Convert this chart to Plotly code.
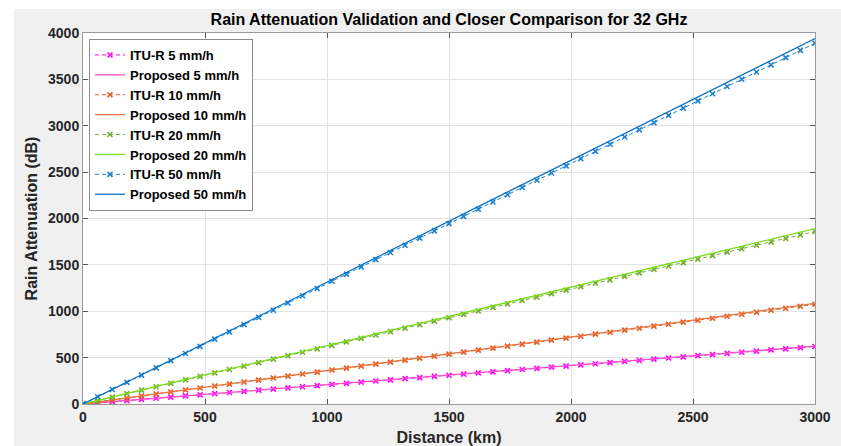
import plotly.graph_objects as go

# Distance samples (km) for the ITU-R reference curves
distance_km = [0, 60, 120, 180, 240, 300, 360, 420, 480, 540, 600, 660, 720, 780, 840,
               900, 960, 1020, 1080, 1140, 1200, 1260, 1320, 1380, 1440, 1500, 1560,
               1620, 1680, 1740, 1800, 1860, 1920, 1980, 2040, 2100, 2160, 2220, 2280,
               2340, 2400, 2460, 2520, 2580, 2640, 2700, 2760, 2820, 2880, 2940, 3000]

# ITU-R rain attenuation (dB) at 32 GHz
itu_5 = [0, 12, 25, 37, 50, 62, 74, 87, 99, 112, 124, 136, 149, 161, 174, 186, 198, 211,
         223, 236, 248, 260, 273, 285, 298, 310, 322, 335, 347, 360, 372, 384, 397, 409,
         422, 434, 446, 459, 471, 484, 496, 508, 521, 533, 546, 558, 570, 583, 595, 608, 620]
itu_10 = [0, 22, 43, 65, 86, 108, 129, 151, 172, 194, 215, 237, 258, 280, 301, 323, 344,
          366, 387, 409, 430, 452, 473, 495, 516, 538, 559, 581, 602, 624, 645, 667, 688,
          710, 731, 753, 774, 796, 817, 839, 860, 882, 903, 925, 946, 968, 989, 1011,
          1032, 1054, 1075]
itu_20 = [0, 37, 74, 112, 149, 186, 223, 260, 298, 335, 372, 409, 446, 484, 521, 558, 595,
          632, 670, 707, 744, 781, 818, 856, 893, 930, 967, 1004, 1042, 1079, 1116, 1153,
          1190, 1228, 1265, 1302, 1339, 1376, 1414, 1451, 1488, 1525, 1562, 1600, 1637,
          1674, 1711, 1748, 1786, 1823, 1860]
itu_50 = [0, 78, 156, 233, 311, 389, 467, 545, 622, 700, 778, 856, 934, 1011, 1089, 1167,
          1245, 1323, 1400, 1478, 1556, 1634, 1712, 1789, 1867, 1945, 2023, 2101, 2178,
          2256, 2334, 2412, 2490, 2567, 2645, 2723, 2801, 2879, 2956, 3034, 3112, 3190,
          3268, 3345, 3423, 3501, 3579, 3657, 3734, 3812, 3890]

# Proposed model (straight lines) at the range end points
prop_distance_km = [0, 3000]
prop_5 = [0, 625]
prop_10 = [0, 1085]
prop_20 = [0, 1890]
prop_50 = [0, 3940]

x_ticks = [0, 500, 1000, 1500, 2000, 2500, 3000]
y_ticks = [0, 500, 1000, 1500, 2000, 2500, 3000, 3500, 4000]

series = [
    ("ITU-R 5 mm/h", distance_km, itu_5, "#ff00ff", True),
    ("Proposed 5 mm/h", prop_distance_km, prop_5, "#ff4fc4", False),
    ("ITU-R 10 mm/h", distance_km, itu_10, "#e2581f", True),
    ("Proposed 10 mm/h", prop_distance_km, prop_10, "#e8763f", False),
    ("ITU-R 20 mm/h", distance_km, itu_20, "#77ac30", True),
    ("Proposed 20 mm/h", prop_distance_km, prop_20, "#77dd1a", False),
    ("ITU-R 50 mm/h", distance_km, itu_50, "#1f82d0", True),
    ("Proposed 50 mm/h", prop_distance_km, prop_50, "#0a72c4", False),
]

FONT = "Liberation Sans, Arial, Helvetica, sans-serif"

fig = go.Figure()
for name, xs, ys, color, is_itu in series:
    if is_itu:
        fig.add_trace(go.Scatter(
            x=xs, y=ys, name=name, mode="lines+markers",
            line=dict(color=color, width=1, dash="4px,3px"),
            marker=dict(symbol="x-thin-open", size=5, color=color,
                        line=dict(color=color, width=1.6)),
        ))
    else:
        fig.add_trace(go.Scatter(
            x=xs, y=ys, name=name, mode="lines",
            line=dict(color=color, width=1.3),
        ))

W, H = 841, 446
L, R, T, B = 83, 26, 33, 42
pw, ph = W - L - R, H - T - B

# white border strips along the top and left of the grey figure panel
fig.add_shape(type="rect", xref="paper", yref="paper", layer="above",
              x0=-0.3, x1=1.3, y0=(H - B - 9) / ph, y1=1.3,
              fillcolor="white", line=dict(width=0))
fig.add_shape(type="rect", xref="paper", yref="paper", layer="above",
              x0=-0.3, x1=(14 - L) / pw, y0=-0.3, y1=1.3,
              fillcolor="white", line=dict(width=0))

axis_common = dict(
    showline=True, linecolor="#9a9a9a", linewidth=1, mirror="ticks",
    ticks="inside", ticklen=5, tickcolor="#555555", tickwidth=1,
    showgrid=True, gridcolor="#e3e3e3", gridwidth=1, zeroline=False,
    automargin=False,
    tickfont=dict(family=FONT, size=14, color="#262626", weight="bold"),
)

fig.update_layout(
    width=W, height=H,
    margin=dict(l=L, r=R, t=T, b=B, autoexpand=False),
    paper_bgcolor="#f0f0f0", plot_bgcolor="white",
    title=dict(text="Rain Attenuation Validation and Closer Comparison for 32 GHz",
               x=(L + pw / 2) / W, xanchor="center", y=1 - 19 / H, yanchor="middle",
               font=dict(family=FONT, size=16, color="black", weight="bold")),
    xaxis=dict(range=[0, 3000], tickvals=x_ticks,
               title=dict(text="Distance (km)", standoff=8,
                          font=dict(family=FONT, size=16, color="#262626", weight="bold")),
               **axis_common),
    yaxis=dict(range=[0, 4000], tickvals=y_ticks,
               title=dict(text="Rain Attenuation (dB)", standoff=6,
                          font=dict(family=FONT, size=16, color="#262626", weight="bold")),
               **axis_common),
    legend=dict(x=(89 - L) / pw, y=(H - B - 39) / ph, xanchor="left", yanchor="top",
                bgcolor="white", bordercolor="#8c8c8c", borderwidth=1,
                font=dict(family=FONT, size=13, color="black", weight="bold"),
                tracegroupgap=0, itemwidth=30),
    showlegend=True,
)

fig.write_html("out.html")
